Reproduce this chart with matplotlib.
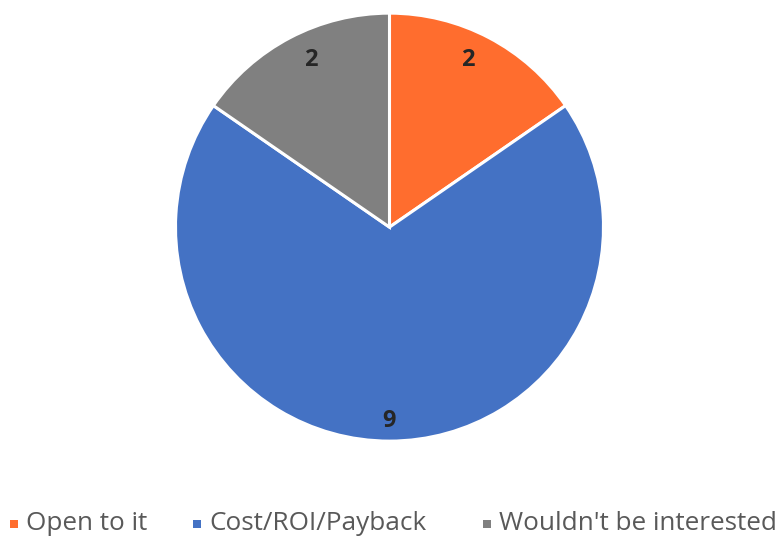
import numpy as np
import matplotlib.pyplot as plt
from matplotlib.patches import Rectangle

categories = ["Open to it", "Cost/ROI/Payback", "Wouldn't be interested"]
values = [2, 9, 2]
colors = ["#FF6D2E", "#4472C4", "#808080"]

fig = plt.figure(figsize=(7.8, 5.36), dpi=100)
ax = fig.add_axes([0.225, 0.177, 0.5487, 0.7985])

wedges, texts = ax.pie(
    values,
    colors=colors,
    startangle=90,
    counterclock=False,
    wedgeprops=dict(edgecolor="white", linewidth=2.2),
)
ax.set_xlim(-1, 1)
ax.set_ylim(-1, 1)
ax.set_aspect("equal")

# value labels inside each slice, near the rim
for w, v in zip(wedges, values):
    mid = np.deg2rad((w.theta1 + w.theta2) / 2)
    r = 0.905
    if v != max(values):
        # nudge the small slices' labels a touch toward the top
        mid += np.deg2rad(2.5) * np.sign(np.cos(mid))
        r = 0.865
    ax.text(r * np.cos(mid), r * np.sin(mid), str(v), ha="center", va="center",
            fontsize=17, fontweight="bold", color="#262626",
            family=["Open Sans", "DejaVu Sans"])

# legend along the bottom, laid out by hand
W, H = 780, 536
marker_x = [10, 193, 483]
for x0, c, name in zip(marker_x, colors, categories):
    fig.patches.append(Rectangle((x0 / W, (H - 528) / H), 8 / W, 8 / H,
                                 transform=fig.transFigure, facecolor=c,
                                 edgecolor="none"))
    fig.text((x0 + 16) / W, (H - 523) / H, name, ha="left", va="center",
             fontsize=18.8, color="#595959", family=["Open Sans", "DejaVu Sans"])

fig.savefig("out.png", dpi=100)
